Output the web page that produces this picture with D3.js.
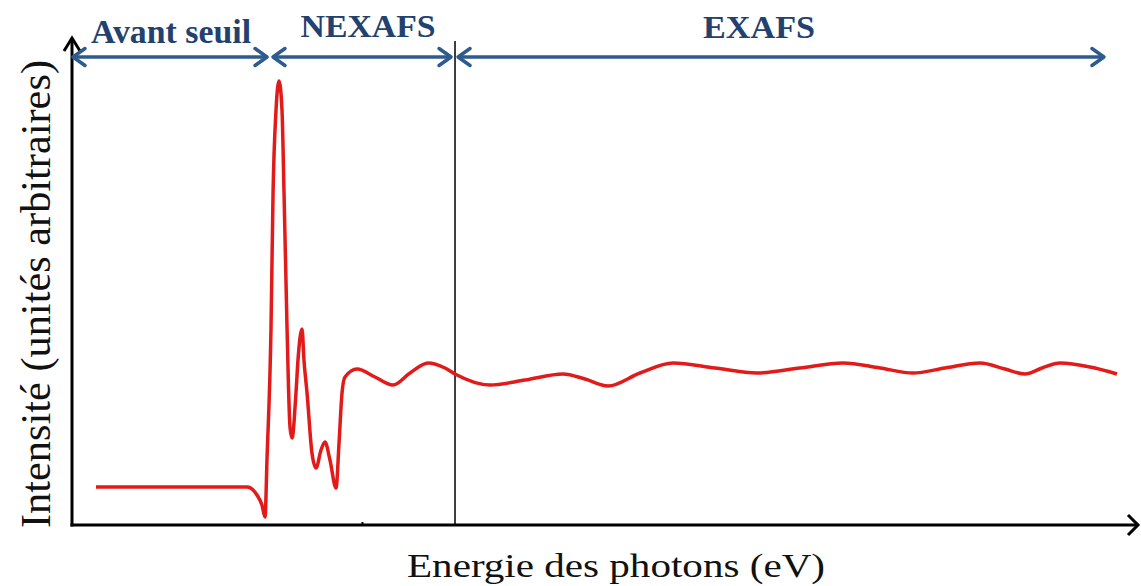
<!DOCTYPE html>
<html>
<head>
<meta charset="utf-8">
<script src="https://cdn.jsdelivr.net/npm/d3@7"></script>
<style>
  html, body { margin: 0; padding: 0; background: #ffffff; }
  svg { display: block; }
</style>
</head>
<body>
<svg id="chart" width="1141" height="586"></svg>
<script>
// ---- data (arbitrary units) ----
const energy = [22.5, 148.2, 164.2, 173.5, 178.2, 181.1, 182.9, 186.7, 188.6, 191.4, 194.2,
  197.0, 198.9, 201.7, 204.5, 206.4, 210.1, 212.0, 215.8, 217.6, 220.5, 225.1, 228.9,
  233.6, 237.3, 242.0, 247.7, 250.5, 253.3, 256.1, 267.4, 284.2, 301.1, 317.1, 334.0,
  349.9, 359.3, 392.1, 425.0, 460.6, 481.2, 502.8, 532.8, 563.8, 603.2, 642.6, 682.9,
  723.3, 758.0, 788.9, 819.0, 851.8, 875.2, 894.0, 910.0, 926.8, 955.0, 980.3];
const intensity = [7.80, 7.80, 7.80, 6.16, 4.11, 1.64, 13.35, 40.66, 68.17, 85.22, 91.17,
  85.22, 68.17, 40.66, 20.12, 17.86, 27.10, 33.88, 40.25, 33.88, 27.10, 14.78, 11.70,
  15.40, 17.04, 13.35, 7.60, 16.84, 27.10, 30.39, 32.03, 30.39, 28.75, 31.21, 33.26,
  32.24, 31.01, 28.75, 29.77, 31.01, 29.98, 28.54, 31.21, 33.26, 32.24, 31.21, 32.24,
  33.26, 32.24, 31.21, 32.24, 33.26, 32.03, 31.01, 32.24, 33.26, 32.44, 31.01];

const regionLabels = ["Avant seuil", "NEXAFS", "EXAFS"];
const regionStart = [0, 187.6, 361.2];
const regionEnd = [183.9, 356.5, 969.0];
const regionCenter = [92.9, 277.7, 644.5];
const edgeSeparator = 359.3;
const xTickValues = [272.0];

const xTitle = "Energie des photons (eV)";
const yTitle = "Intensité (unités arbitraires)";

// ---- layout ----
const serif = "Liberation Serif";
const svg = d3.select("#chart");
const x = d3.scaleLinear().domain([0, 1000]).range([72, 1138]);
const y = d3.scaleLinear().domain([0, 100]).range([525, 38]);

const data = energy.map((e, i) => ({ e, v: intensity[i] }));

// separator line
svg.append("line")
  .attr("x1", x(edgeSeparator)).attr("x2", x(edgeSeparator))
  .attr("y1", 41).attr("y2", y(0))
  .attr("stroke", "#000").attr("stroke-width", 1.5);

// x axis
const xAxis = d3.axisBottom(x).tickValues(xTickValues).tickSize(-3).tickFormat("");
const gx = svg.append("g").attr("transform", `translate(0,${y(0)})`).call(xAxis);
gx.select(".domain").remove();
gx.selectAll(".tick line").attr("stroke", "#000").attr("stroke-width", 2);

svg.append("line")
  .attr("x1", x(0) - 1.5).attr("x2", x(1000))
  .attr("y1", y(0)).attr("y2", y(0))
  .attr("stroke", "#000").attr("stroke-width", 3);
svg.append("path")
  .attr("d", `M${x(1000) - 10},${y(0) - 10} L${x(1000)},${y(0)} L${x(1000) - 10},${y(0) + 10}`)
  .attr("fill", "none").attr("stroke", "#000").attr("stroke-width", 3);

// y axis
svg.append("line")
  .attr("x1", x(0)).attr("x2", x(0))
  .attr("y1", y(0) + 1.5).attr("y2", y(100))
  .attr("stroke", "#000").attr("stroke-width", 3);
svg.append("path")
  .attr("d", `M${x(0) - 8},${y(100) + 13} L${x(0)},${y(100)} L${x(0) + 8},${y(100) + 13}`)
  .attr("fill", "none").attr("stroke", "#000").attr("stroke-width", 3);

// region arrows
const arrowColor = "#2d5b8d";
const ay = 57;
const ah = 13, aw = 8.5;
regionLabels.forEach((lab, i) => {
  const x1 = x(regionStart[i]), x2 = x(regionEnd[i]);
  svg.append("line")
    .attr("x1", x1 + 1).attr("x2", x2 - 1)
    .attr("y1", ay).attr("y2", ay)
    .attr("stroke", arrowColor).attr("stroke-width", 3.5);
  svg.append("path")
    .attr("d", `M${x1 + ah},${ay - aw} L${x1 + 1},${ay} L${x1 + ah},${ay + aw}`)
    .attr("fill", "none").attr("stroke", arrowColor).attr("stroke-width", 3.5)
    .attr("stroke-linecap", "round").attr("stroke-linejoin", "round");
  svg.append("path")
    .attr("d", `M${x2 - ah},${ay - aw} L${x2 - 1},${ay} L${x2 - ah},${ay + aw}`)
    .attr("fill", "none").attr("stroke", arrowColor).attr("stroke-width", 3.5)
    .attr("stroke-linecap", "round").attr("stroke-linejoin", "round");
});

// region labels
const labelBaseline = [43, 37, 38];
const labelWidth = [160, 135, 112];
const labelSize = [34, 31, 31];
regionLabels.forEach((lab, i) => {
  svg.append("text")
    .attr("x", x(regionCenter[i])).attr("y", labelBaseline[i])
    .attr("text-anchor", "middle")
    .style("font-family", serif)
    .style("font-weight", "bold").style("font-size", labelSize[i] + "px")
    .attr("fill", "#23416f")
    .attr("textLength", labelWidth[i]).attr("lengthAdjust", "spacingAndGlyphs")
    .text(lab);
});

// curve
const line = d3.line()
  .x(d => x(d.e)).y(d => y(d.v))
  .curve(d3.curveMonotoneX);
svg.append("path")
  .datum(data)
  .attr("d", line)
  .attr("fill", "none")
  .attr("stroke", "#e21a1a")
  .attr("stroke-width", 3.5)
  .attr("stroke-linejoin", "round");

// axis titles
svg.append("text")
  .attr("x", 616).attr("y", 577)
  .attr("text-anchor", "middle")
  .style("font-family", serif)
  .style("font-size", "33px").attr("fill", "#111")
  .attr("textLength", 418).attr("lengthAdjust", "spacingAndGlyphs")
  .text(xTitle);

svg.append("text")
  .attr("transform", "translate(50,294) scale(1.2,1) rotate(-90)")
  .attr("text-anchor", "middle")
  .style("font-family", serif)
  .style("font-size", "36px").attr("fill", "#111")
  .attr("textLength", 468).attr("lengthAdjust", "spacingAndGlyphs")
  .text(yTitle);
</script>
</body>
</html>
